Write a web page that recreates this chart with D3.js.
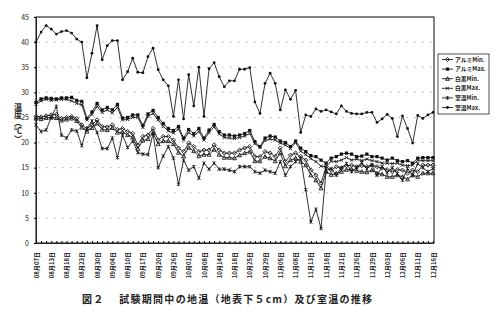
<!DOCTYPE html>
<html lang="ja">
  <head>
    <meta charset="UTF-8" />
    <title>地温及び室温の推移</title>
    <script src="https://d3js.org/d3.v7.min.js"></script>
    <style>
      body {
        margin: 0;
        background: #fff;
      }
      svg text {
        font-family: "Noto Sans CJK JP", "Noto Sans", sans-serif;
        fill: #222;
      }
      .grid line {
        stroke: #b5b5b5;
        stroke-dasharray: 2, 6;
        stroke-width: 0.8;
      }
      .series path {
        fill: none;
        stroke: #1a1a1a;
        stroke-width: 0.9;
      }
    </style>
  </head>
  <body>
    <svg width="499" height="323"></svg>

    <script>
      // x軸ラベル（3点ごと）
      const dateLabels = [
        "08月07日", "08月13日", "08月18日", "08月23日", "08月30日", "09月04日",
        "09月10日", "09月17日", "09月20日", "09月26日", "10月01日", "10月08日",
        "10月14日", "10月18日", "10月25日", "10月29日", "11月05日", "11月08日",
        "11月13日", "11月18日", "11月21日", "11月26日", "11月29日", "12月03日",
        "12月06日", "12月11日", "12月16日"
      ];
      const yTicks = [0, 5, 10, 15, 20, 25, 30, 35, 40, 45];
      const seriesNames = ["アルミMin.", "アルミMax.", "白黒Min.", "白黒Max.", "室温Min.", "室温Max."];

      // 各系列（79点）
      const aluMin = [
        25.2, 25.1, 25.3, 25.5, 25.6, 24.8, 25.0, 25.2, 24.8, 23.5,
        22.8, 23.5, 24.5, 23.2, 23.1, 23.5, 22.6, 22.8, 22.2, 21.8,
        19.5, 21.2, 21.5, 22.8, 20.5, 21.2, 21.2, 20.5, 18.9, 18.2,
        19.9, 19.2, 18.2, 18.5, 18.5, 19.5, 18.5, 17.9, 17.9, 17.9,
        18.5, 18.9, 19.2, 17.2, 17.2, 18.2, 17.9, 17.2, 18.9, 16.2,
        17.5, 17.9, 17.2, 16.5, 14.5, 13.5, 11.9, 15.2, 14.5, 15.2,
        14.9, 15.4, 15.5, 15.2, 15.4, 15.2, 15.5, 15.2, 14.9, 14.6,
        14.2, 14.6, 14.5, 13.9, 14.5, 14.2, 15.5, 15.5, 15.5
      ];
      const aluMax = [
        28.0, 28.7, 28.9, 28.8, 28.7, 28.9, 28.9, 29.0, 28.4, 28.2,
        24.8, 26.1, 27.8, 26.5, 27.0, 26.5, 27.6, 24.9, 25.0, 25.5,
        25.5, 23.4, 25.7, 26.4, 25.0, 23.8, 22.8, 22.4, 23.2, 20.9,
        22.6, 21.8, 22.8, 20.9, 22.5, 23.6, 22.2, 21.5, 21.5, 21.3,
        21.5, 21.8, 22.4, 20.2, 19.2, 20.9, 21.3, 21.1, 20.3, 20.0,
        19.2, 20.3, 18.9, 18.2, 17.4, 17.2, 16.5, 15.9, 16.9, 17.2,
        17.7, 17.9, 17.7, 17.2, 17.3, 17.7, 17.2, 17.2, 16.9, 16.5,
        16.9, 16.4, 16.2, 16.4, 15.9, 16.9, 17.0, 17.0, 17.0
      ];
      const bwMin = [
        24.8, 24.7, 24.9, 25.0, 24.9, 24.4, 24.6, 24.8, 24.3, 23.0,
        22.2, 22.9, 23.8, 22.6, 22.5, 22.9, 22.0, 22.1, 21.5, 21.1,
        18.8, 20.4, 20.7, 21.9, 19.7, 20.3, 20.3, 19.7, 18.0, 17.3,
        19.0, 18.3, 17.3, 17.6, 17.6, 18.6, 17.6, 17.0, 17.0, 16.9,
        17.5, 17.9, 18.2, 16.3, 16.3, 17.2, 16.9, 16.3, 17.9, 15.3,
        16.5, 16.9, 16.2, 15.5, 13.5, 12.5, 10.9, 14.2, 13.6, 13.9,
        14.2, 14.6, 14.7, 14.4, 14.2, 14.1, 14.5, 13.9, 13.7, 13.2,
        13.2, 13.5, 13.2, 12.7, 13.5, 13.2, 13.9, 13.9, 13.9
      ];
      const bwMax = [
        27.6, 28.3, 28.6, 28.4, 28.5, 28.6, 28.6, 28.3, 27.8, 27.5,
        24.5, 25.6, 27.2, 26.0, 26.5, 25.9, 27.0, 24.5, 24.6, 25.0,
        25.0, 23.0, 25.2, 25.8, 24.5, 23.2, 22.3, 21.9, 22.7, 20.5,
        22.0, 21.3, 22.2, 20.5, 22.0, 23.1, 21.7, 21.0, 20.9, 20.8,
        21.0, 21.3, 21.8, 19.8, 19.0, 20.4, 20.7, 20.5, 19.9, 19.5,
        18.8, 20.0, 18.3, 17.6, 16.8, 16.2, 15.3, 15.2, 16.3, 16.2,
        16.5, 17.0, 16.5, 16.7, 16.4, 16.7, 16.4, 16.2, 15.9, 15.9,
        15.8, 15.9, 15.5, 15.4, 15.5, 16.5, 16.4, 16.4, 16.4
      ];
      const roomMin = [
        23.5, 22.2, 22.5, 25.0, 27.2, 21.5, 20.9, 22.5, 22.3, 19.4,
        22.8, 24.3, 22.0, 18.8, 18.8, 20.9, 17.0, 21.5, 19.0, 20.3,
        18.0, 17.7, 17.6, 21.8, 15.0, 17.3, 19.2, 16.9, 11.7, 16.5,
        14.5, 15.2, 12.9, 15.9, 14.7, 15.9, 14.7, 14.7, 14.5, 14.2,
        15.2, 15.2, 15.2, 14.2, 13.9, 14.5, 14.2, 13.9, 16.2, 13.5,
        15.2, 16.2, 16.9, 10.6, 4.2, 6.7, 2.9, 14.5, 14.8, 13.5,
        15.0, 15.8, 14.2, 15.0, 16.0, 14.8, 15.5, 13.5, 15.2, 14.0,
        15.0, 13.8, 12.5, 14.8, 13.5, 15.8, 15.0, 14.2, 14.8
      ];
      const roomMax = [
        40.0, 42.0, 43.3, 42.6, 41.6, 42.1, 42.3, 41.8, 40.6, 40.0,
        32.9, 37.8, 43.3, 36.5, 39.3, 40.3, 40.3, 32.5, 34.1, 36.8,
        34.0, 33.9, 37.1, 38.8, 34.5, 32.5, 31.3, 25.2, 32.5, 24.7,
        33.5, 27.3, 35.0, 25.2, 34.7, 35.9, 33.1, 31.1, 32.3, 32.3,
        34.6, 34.6, 34.9, 28.1, 25.8, 31.8, 33.8, 31.8, 26.5, 30.5,
        28.6, 30.4, 22.0, 25.5, 25.2, 26.7, 26.2, 26.5, 26.1, 25.7,
        27.3, 26.2, 25.8, 25.7, 25.7, 26.0, 26.0, 24.0, 24.7, 25.6,
        24.8, 21.2, 25.3, 22.8, 19.9, 25.4, 24.8, 25.5, 26.0
      ];

      const seriesData = [aluMin, aluMax, bwMin, bwMax, roomMin, roomMax];
      const markerTypes = ["diamond", "square", "triangle", "cross", "star", "circle"];

      const svg = d3.select("svg");
      const plotLeft = 36, plotRight = 434, plotTop = 17, plotBottom = 243;

      const x = d3.scalePoint().domain(d3.range(roomMax.length)).range([plotLeft, plotRight - 1]);
      const y = d3.scaleLinear().domain([0, 45]).range([plotBottom, plotTop]);

      // 目盛り線（点線）
      svg.append("g")
        .attr("class", "grid")
        .selectAll("line")
        .data(yTicks.slice(1, -1))
        .join("line")
        .attr("x1", plotLeft + 2)
        .attr("x2", plotRight - 2)
        .attr("y1", (d) => y(d))
        .attr("y2", (d) => y(d));

      // 枠
      svg.append("rect")
        .attr("x", plotLeft).attr("y", plotTop)
        .attr("width", plotRight - plotLeft).attr("height", plotBottom - plotTop)
        .attr("fill", "none").attr("stroke", "#222").attr("stroke-width", 1.1);

      // y軸
      const yAxis = svg.append("g")
        .attr("transform", `translate(${plotLeft},0)`)
        .call(d3.axisLeft(y).tickValues(yTicks).tickSize(2).tickPadding(5));
      yAxis.select(".domain").attr("stroke", "#222");
      yAxis.selectAll("text").style("font-size", "7px");

      // x軸
      const xAxis = svg.append("g")
        .attr("transform", `translate(0,${plotBottom})`)
        .call(d3.axisBottom(x).tickSize(-2).tickFormat((d) => (d % 3 === 0 ? dateLabels[d / 3] : "")));
      xAxis.select(".domain").attr("stroke", "#222");
      xAxis.selectAll("text")
        .style("font-size", "6px")
        .style("font-weight", "bold")
        .attr("text-anchor", "end")
        .attr("transform", "rotate(-90)")
        .attr("x", -9)
        .attr("y", 0)
        .attr("dy", "0.35em");

      // y軸タイトル
      svg.append("text")
        .attr("x", 18)
        .attr("y", 103)
        .style("writing-mode", "vertical-rl")
        .style("font-size", "8px")
        .style("font-weight", "bold")
        .text("温度（℃）");

      // 折れ線
      const line = d3.line().x((d, i) => x(i)).y((d) => y(d));

      function drawMarker(g, type, cx, cy) {
        const s = 1.6;
        if (type === "diamond") {
          g.append("path").attr("d", `M${cx},${cy - s - 0.5}L${cx + s + 0.5},${cy}L${cx},${cy + s + 0.5}L${cx - s - 0.5},${cy}Z`).attr("fill", "#111");
        } else if (type === "square") {
          g.append("rect").attr("x", cx - s).attr("y", cy - s).attr("width", 2 * s).attr("height", 2 * s).attr("fill", "#111");
        } else if (type === "triangle") {
          g.append("path").attr("d", `M${cx},${cy - s - 0.4}L${cx + s + 0.4},${cy + s}L${cx - s - 0.4},${cy + s}Z`).attr("fill", "#111");
        } else if (type === "cross") {
          g.append("path").attr("d", `M${cx - s},${cy - s}L${cx + s},${cy + s}M${cx - s},${cy + s}L${cx + s},${cy - s}`).attr("stroke", "#111").attr("stroke-width", 1);
        } else if (type === "star") {
          g.append("path").attr("d", `M${cx - s},${cy - s}L${cx + s},${cy + s}M${cx - s},${cy + s}L${cx + s},${cy - s}M${cx},${cy - s - 0.3}L${cx},${cy + s + 0.3}`).attr("stroke", "#111").attr("stroke-width", 1);
        } else {
          g.append("circle").attr("cx", cx).attr("cy", cy).attr("r", s - 0.2).attr("fill", "#111");
        }
      }

      seriesData.forEach((vals, k) => {
        const g = svg.append("g").attr("class", "series");
        g.append("path").attr("d", line(vals));
        vals.forEach((v, i) => drawMarker(g, markerTypes[k], x(i), y(v)));
      });

      // 凡例
      const legend = svg.append("g").attr("transform", "translate(438,54)");
      legend.append("rect")
        .attr("width", 51).attr("height", 60)
        .attr("fill", "#fff").attr("stroke", "#222").attr("stroke-width", 0.8);
      seriesNames.forEach((name, k) => {
        const ly = 5.5 + k * 9.6;
        const lg = legend.append("g").attr("class", "series");
        lg.append("path").attr("d", `M4,${ly}L15,${ly}`);
        drawMarker(lg, markerTypes[k], 9.5, ly);
        lg.append("text")
          .attr("x", 17).attr("y", ly).attr("dy", "0.35em")
          .style("font-size", "5.8px")
          .style("font-weight", "bold")
          .text(name);
      });

      // 図タイトル
      svg.append("text")
        .attr("x", 82)
        .attr("y", 303)
        .attr("textLength", 290)
        .attr("lengthAdjust", "spacing")
        .style("font-size", "10px")
        .style("font-weight", "bold")
        .text("図２　 試験期間中の地温（地表下５cm）及び室温の推移");
    </script>
  </body>
</html>
